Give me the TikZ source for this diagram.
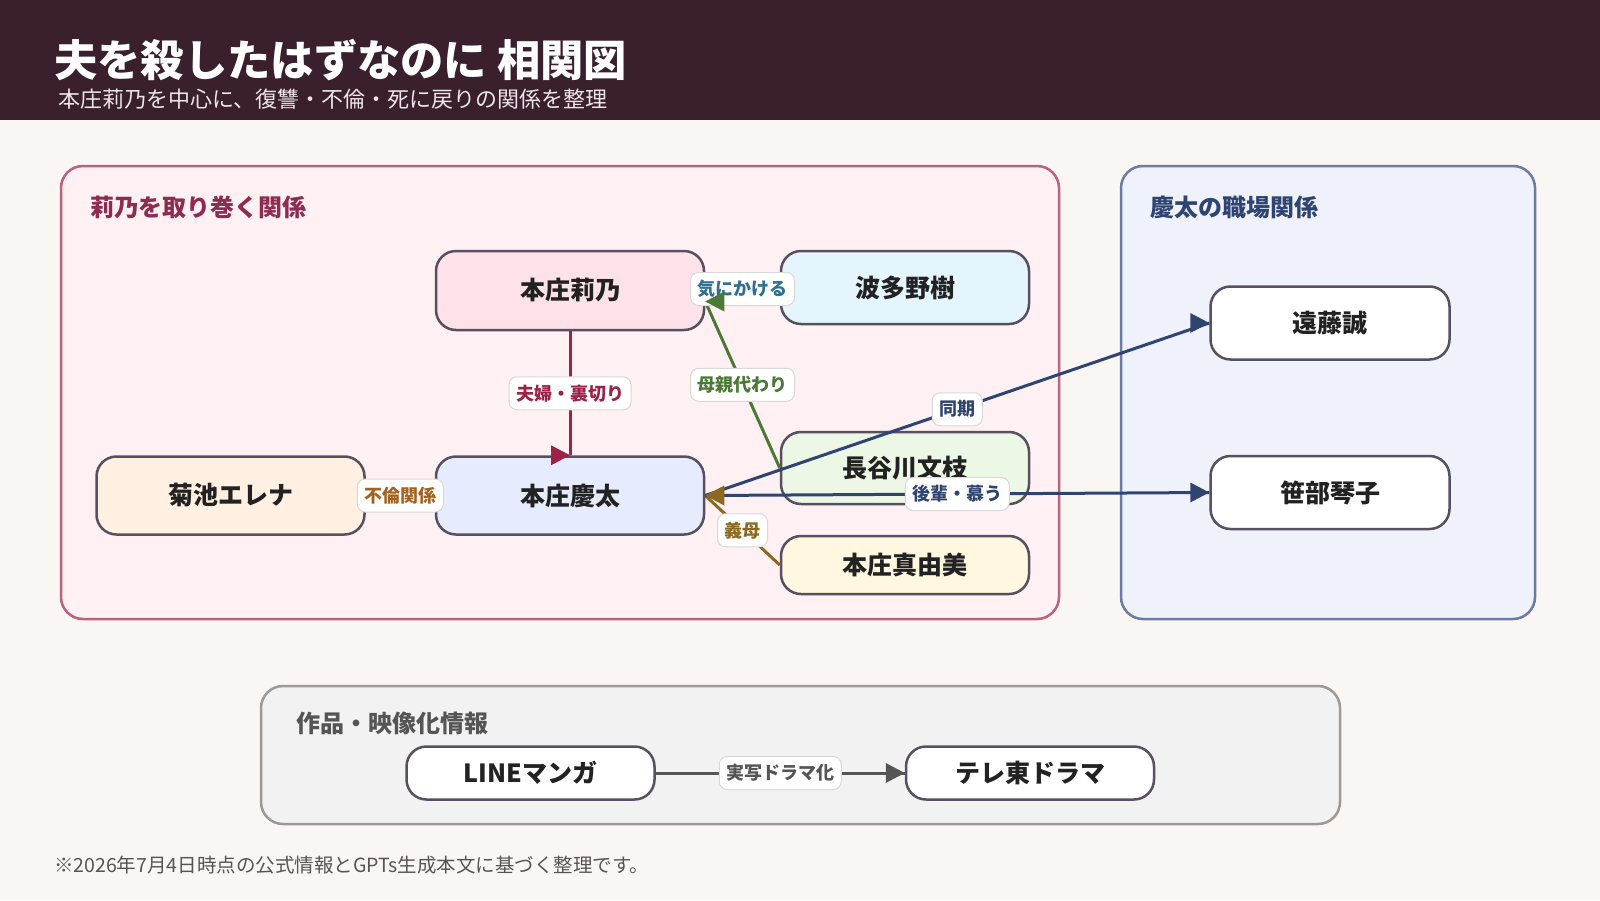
\documentclass[tikz,border=0pt]{standalone}
\usepackage{fontspec}
\setmainfont{Noto Sans CJK JP}
\usetikzlibrary{calc}
\definecolor{hdr}{HTML}{3A1F2D}
\definecolor{pagebg}{HTML}{FAF6F4}
\definecolor{subt}{HTML}{EDE5E9}
\definecolor{lpfill}{HTML}{FFF0F3}
\definecolor{lpdraw}{HTML}{B9637E}
\definecolor{lptext}{HTML}{8E2B50}
\definecolor{rpfill}{HTML}{EFF2FA}
\definecolor{rpdraw}{HTML}{6B7BA3}
\definecolor{rptext}{HTML}{2F4470}
\definecolor{bpfill}{HTML}{F2F2F2}
\definecolor{bpdraw}{HTML}{9A9A9A}
\definecolor{gtext}{HTML}{555555}
\definecolor{nodeb}{HTML}{575060}
\definecolor{txt}{HTML}{222222}
\definecolor{labb}{HTML}{D9D9D9}
\definecolor{fRiino}{HTML}{FFE1E9}
\definecolor{fHatano}{HTML}{E4F5FD}
\definecolor{fErena}{HTML}{FFF0E1}
\definecolor{fKeita}{HTML}{E6EBFD}
\definecolor{fHase}{HTML}{EDF7E6}
\definecolor{fMayumi}{HTML}{FFF7DF}
\definecolor{cCrim}{HTML}{9C2249}
\definecolor{cBrown}{HTML}{A4611F}
\definecolor{cTeal}{HTML}{2F6F8F}
\definecolor{cGreen}{HTML}{4A7A35}
\definecolor{cGold}{HTML}{8B6A1F}
\definecolor{cNavy}{HTML}{2F4470}
\newcommand\tipEast[2]{\fill[#1] (#2) -- ++(-19,-10) -- ++(0,20) -- cycle;}
\newcommand\tipWest[2]{\fill[#1] (#2) -- ++(19,-10) -- ++(0,20) -- cycle;}
\begin{document}
\begin{tikzpicture}[x=1pt,y=-1pt,
  person/.style={draw=nodeb, line width=2.5pt, rounded corners=20pt,
    font=\fontsize{25}{30}\selectfont\bfseries, text=txt, inner sep=0pt},
  panel/.style={line width=2.5pt, rounded corners=22pt},
  ptitle/.style={anchor=west, inner sep=0pt, font=\fontsize{24}{28}\selectfont\bfseries},
  lab/.style={fill=white, draw=labb, line width=1pt, rounded corners=8pt,
    inner xsep=7pt, inner ysep=0pt, minimum height=33pt,
    font=\fontsize{18}{20}\selectfont\bfseries},
  edge/.style={line width=3pt}]
\useasboundingbox (0,0) rectangle (1600,900);
\fill[pagebg] (0,0) rectangle (1600,900);
\fill[hdr] (0,0) rectangle (1600,120);
\node[anchor=west, inner sep=0pt, text=white, font=\fontsize{43.3}{50}\selectfont\bfseries] (title) at (54,60) {夫を殺したはずなのに 相関図};
\node[anchor=west, inner sep=0pt, text=subt, font=\fontsize{22}{26}\selectfont] (subtitle) at (58,99) {本庄莉乃を中心に、復讐・不倫・死に戻りの関係を整理};
% panels
\draw[panel, fill=lpfill, draw=lpdraw] (61,166) rectangle (1059,619);
\node[ptitle, text=lptext] (lpt) at (90,207) {莉乃を取り巻く関係};
\draw[panel, fill=rpfill, draw=rpdraw] (1121,166) rectangle (1535,619);
\node[ptitle, text=rptext] (rpt) at (1150,207) {慶太の職場関係};
\draw[panel, fill=bpfill, draw=bpdraw] (261,686) rectangle (1340,824);
\node[ptitle, text=gtext] (bpt) at (296,723) {作品・映像化情報};
% nodes
\node[person, fill=fRiino, minimum width=268pt, minimum height=79pt] (riino) at (570,290.5) {本庄莉乃};
\node[person, fill=fHatano, minimum width=248pt, minimum height=73pt] (hatano) at (905,287.5) {波多野樹};
\node[person, fill=fErena, minimum width=268pt, minimum height=78pt] (erena) at (230.5,495.5) {菊池エレナ};
\node[person, fill=fKeita, minimum width=268pt, minimum height=78pt] (keita) at (570,495.5) {本庄慶太};
\node[person, fill=fHase, minimum width=248pt, minimum height=72pt] (hase) at (905,468) {長谷川文枝};
\node[person, fill=fMayumi, minimum width=248pt, minimum height=58pt] (mayumi) at (905,565) {本庄真由美};
\node[person, fill=white, minimum width=239pt, minimum height=73pt] (endo) at (1330,323) {遠藤誠};
\node[person, fill=white, minimum width=239pt, minimum height=73pt] (sasabe) at (1330,492.5) {笹部琴子};
\node[person, fill=white, minimum width=248pt, minimum height=53pt] (manga) at (530.5,773) {LINEマンガ};
\node[person, fill=white, minimum width=248pt, minimum height=53pt] (drama) at (1030,773) {テレ東ドラマ};
% edges
\coordinate (rinoin) at ($(riino.east)+(0,11)$);
\draw[edge, cCrim] (riino.south) -- (keita.north);
\draw[edge, cBrown] (erena.east) -- (keita.west);
\draw[edge, cTeal] (hatano.west) -- (riino.east);
\draw[edge, cGreen] (hase.west) -- (rinoin);
\draw[edge, cGold] (mayumi.west) -- (keita.east);
\draw[edge, cNavy] (keita.east) -- (endo.west);
\draw[edge, cNavy] (keita.east) -- (sasabe.west);
\draw[edge, gtext] (manga.east) -- (drama.west);
% labels
\path (riino.south) -- (keita.north) node[midway, lab, text=cCrim] (l1) {夫婦・裏切り};
\path (erena.east) -- (keita.west) node[midway, lab, text=cBrown] (l2) {不倫関係};
\path (hatano.west) -- (riino.east) node[midway, lab, text=cTeal] (l3) {気にかける};
\path (hase.west) -- (rinoin) node[midway, lab, text=cGreen] (l4) {母親代わり};
\path (mayumi.west) -- (keita.east) node[midway, lab, text=cGold] (l5) {義母};
\path (keita.east) -- (endo.west) node[midway, lab, text=cNavy] (l6) {同期};
\path (keita.east) -- (sasabe.west) node[midway, lab, text=cNavy] (l7) {後輩・慕う};
\path (manga.east) -- (drama.west) node[midway, lab, text=gtext] (l8) {実写ドラマ化};
% arrow tips (drawn above labels)
\tipEast{cCrim}{keita.north}
\tipWest{cGreen}{rinoin}
\tipWest{cGold}{keita.east}
\tipEast{cNavy}{endo.west}
\tipEast{cNavy}{sasabe.west}
\tipEast{gtext}{drama.west}
% footnote
\node[anchor=west, inner sep=0pt, text=gtext, font=\fontsize{19.5}{23}\selectfont] (foot) at (54,865) {※2026年7月4日時点の公式情報とGPTs生成本文に基づく整理です。};
\end{tikzpicture}
\end{document}
